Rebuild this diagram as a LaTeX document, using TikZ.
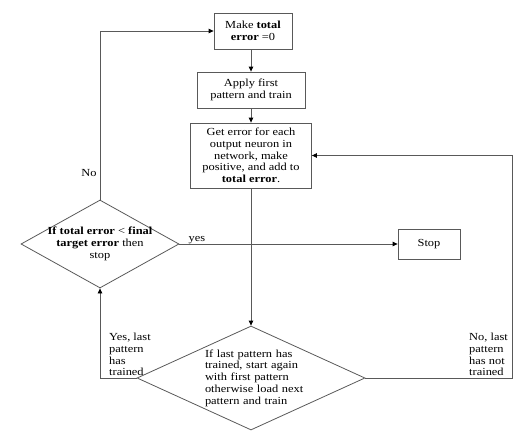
\documentclass[tikz,border=0pt]{standalone}
\usepackage{fontspec}
\setmainfont[FakeStretch=1.15]{Liberation Serif}
\usetikzlibrary{positioning, arrows.meta, calc, shapes.geometric}
\colorlet{color_line}{black!65}

\begin{document}
\begin{tikzpicture}[
    x=1pt, y=-1pt,
    >={Triangle[length=5pt, width=4.5pt, color=black]}, font=\fontsize{10.8}{11.7}\selectfont,
    block/.style={draw=color_line, line width=0.8pt, fill=white, align=center, inner sep=1pt},
    decision/.style={diamond, draw=color_line, line width=0.8pt, inner sep=0pt},
    arrow/.style={->, line width=0.8pt, draw=color_line},
    line/.style={line width=0.8pt, draw=color_line},
    note/.style={align=left, inner sep=0pt}
]
\useasboundingbox (0,0) rectangle (524,444);

%% ============================================================
%% MAIN COLUMN
%% ============================================================
\node[block, minimum width=78, minimum height=36] (zero) at (253,31) {Make \textbf{total}\\\textbf{error} =0};
\node[block, minimum width=108, minimum height=36] (apply) at (251,90) {Apply first\\pattern and train};
\node[block, minimum width=121, minimum height=65] (geterr) at (251,155.5) {
    Get error for each\\output neuron in\\network, make\\positive, and add to\\\textbf{total error}.
};
\draw[arrow] (zero.south -| apply.north) -- (apply.north);
\draw[arrow] (apply.south) -- (geterr.north);

%% --- first decision: stop test ---
\node[decision, minimum width=158, minimum height=88] (test) at (100,244) {};
\node[align=center, inner sep=0pt] (testtxt) at (test.center) {
    \textbf{If total error} < \textbf{final}\\\textbf{target error} then\\stop
};
\node[block, minimum width=62, minimum height=30] (stop) at (429,244) {Stop};
\draw[arrow] (test.east) -- (stop.west) node[pos=0.08, above=-1pt, inner sep=1pt] (yes) {yes};
\draw[arrow] (test.north) |- (zero.west);
\node[inner sep=0pt] (no) at (89,173) {No};

%% --- second decision: next pattern ---
\node[decision, minimum width=228, minimum height=104] (check) at (251,378) {};
\node[note, text width=100] (checktxt) at (255,378) {
    If last pattern has\\trained, start again\\with first pattern\\otherwise load next\\pattern and train
};
\draw[arrow] (geterr.south) -- (check.north);

\coordinate (loopR) at (512,155.5);
\draw[arrow] (check.west) -| (test.south);
\draw[arrow] (check.east) -| (loopR) -- (geterr.east);

\node[note, anchor=west] (yeslast) at (109,354.5) {Yes, last\\pattern\\has\\trained};
\node[note, anchor=west] (nolast) at (469,354.5) {No, last\\pattern\\has not\\trained};

\end{tikzpicture}
\end{document}
